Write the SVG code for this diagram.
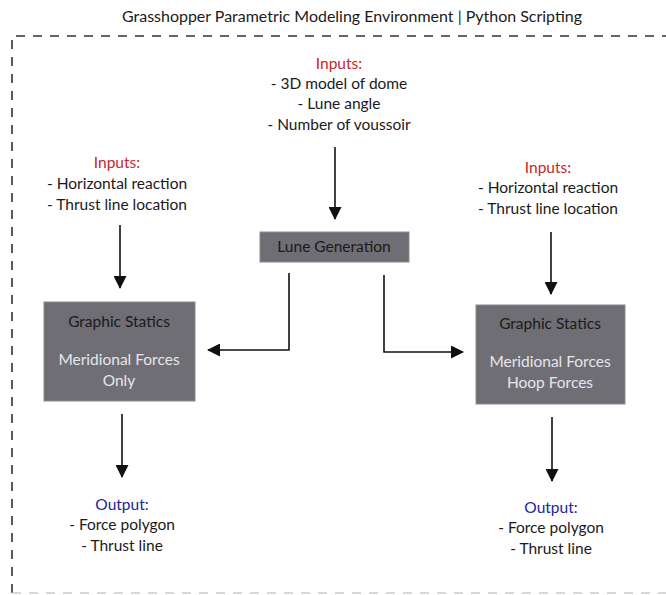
<svg xmlns="http://www.w3.org/2000/svg" width="666" height="595" viewBox="0 0 666 595">
<defs>
<marker id="ah" markerWidth="13" markerHeight="13" refX="12" refY="6.5" orient="auto" markerUnits="userSpaceOnUse">
<path d="M0,0 L13,6.5 L0,13 Z" fill="#111"/>
</marker>
</defs>
<style>
text{font-family:Lato,"Liberation Sans",sans-serif;font-size:15.5px;text-anchor:middle;fill:#1a1a1a}
.red{fill:#c8262a}
.blue{fill:#23239a}
.light{fill:#e6e6ea}
.box{fill:#6f6e74;stroke:#8a898e;stroke-width:1}
.conn{fill:none;stroke:#111;stroke-width:1.6;marker-end:url(#ah)}
.frame{fill:none;stroke:#333;stroke-width:1.6;stroke-dasharray:9,8}
</style>
<rect width="666" height="595" fill="#fff"/>
<text x="352" y="22" textLength="460" lengthAdjust="spacingAndGlyphs" style="font-size:14.5px">Grasshopper Parametric Modeling Environment | Python Scripting</text>
<path class="frame" d="M12,593 L12,36 L666,36"/>
<path d="M12,593 L666,593" fill="none" stroke="#ccc" stroke-width="1.4" stroke-dasharray="9,8"/>

<g id="top-inputs">
<text class="red" x="339" y="69">Inputs:</text>
<text x="339" y="89">- 3D model of dome</text>
<text x="339" y="109">- Lune angle</text>
<text x="339" y="130">- Number of voussoir</text>
</g>
<g id="lune">
<rect class="box" x="260" y="232" width="149" height="30"/>
<text x="334" y="252">Lune Generation</text>
</g>
<g id="left-inputs">
<text class="red" x="117" y="168">Inputs:</text>
<text x="117" y="189">- Horizontal reaction</text>
<text x="117" y="210">- Thrust line location</text>
</g>
<g id="right-inputs">
<text class="red" x="548" y="173">Inputs:</text>
<text x="548" y="193">- Horizontal reaction</text>
<text x="548" y="214">- Thrust line location</text>
</g>
<g id="left-box">
<rect class="box" x="44" y="302" width="151" height="99"/>
<text x="119" y="327">Graphic Statics</text>
<text class="light" x="119" y="365">Meridional Forces</text>
<text class="light" x="119" y="386">Only</text>
</g>
<g id="right-box">
<rect class="box" x="476" y="305" width="149" height="99"/>
<text x="550" y="329">Graphic Statics</text>
<text class="light" x="550" y="367">Meridional Forces</text>
<text class="light" x="550" y="388">Hoop Forces</text>
</g>
<g id="left-output">
<text class="blue" x="122" y="510">Output:</text>
<text x="122" y="530">- Force polygon</text>
<text x="122" y="551">- Thrust line</text>
</g>
<g id="right-output">
<text class="blue" x="551" y="513">Output:</text>
<text x="551" y="533">- Force polygon</text>
<text x="551" y="554">- Thrust line</text>
</g>
<g id="connectors">
<path class="conn" d="M335,147 L335,219"/>
<path class="conn" d="M120,225 L120,288"/>
<path class="conn" d="M551,232 L551,294"/>
<path class="conn" d="M289,273 L289,350 L208,350"/>
<path class="conn" d="M384,275 L384,352 L463,352"/>
<path class="conn" d="M122,414 L122,477"/>
<path class="conn" d="M552,417 L552,481"/>
</g>
</svg>
